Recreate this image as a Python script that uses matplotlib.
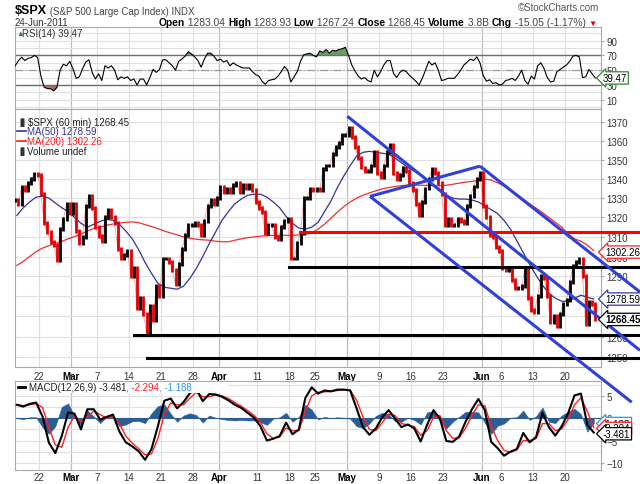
import numpy as np
import matplotlib
matplotlib.use('Agg')
import matplotlib.pyplot as plt
from matplotlib.ticker import FixedLocator, FuncFormatter, NullLocator, NullFormatter
from matplotlib.lines import Line2D
from matplotlib.patches import Rectangle
from matplotlib.text import Annotation

plt.rcParams['font.family'] = ['Liberation Sans', 'DejaVu Sans']

# ---------------- data ----------------
# x axis: trading-day index, 0 = 22-Feb-2011 (holidays removed)
tick_days = [0, 5, 9, 14, 19, 24, 28, 34, 39, 43, 48, 53, 58, 63, 69, 72, 77, 82]
tick_labels = ['22', 'Mar', '7', '14', '21', '28', 'Apr', '11', '18', '25',
               'May', '9', '16', '23', 'Jun', '6', '13', '20']
month_labels = ['Mar', 'Apr', 'May', 'Jun']

# $SPX 60-min closes, two readings per trading day, 15-Feb-2011 .. 24-Jun-2011
close = [
    1329, 1327, 1336, 1334, 1338, 1340, 1342.5, 1342,
    1332, 1317, 1312.5, 1307.4, 1305.7, 1298, 1314, 1319, 1327, 1322,
    1327, 1313, 1307, 1310, 1326, 1331, 1325, 1315, 1310.5, 1308, 1320, 1324,
    1320, 1317, 1304, 1299, 1301, 1303, 1290, 1294, 1274, 1279, 1271, 1262,
    1275, 1268, 1285, 1280, 1299, 1299, 1297, 1293, 1286, 1296, 1304, 1311,
    1316, 1316, 1317, 1316, 1311, 1318, 1326, 1329, 1327, 1330,
    1336, 1333, 1335, 1333, 1337, 1338, 1333, 1337, 1335, 1337, 1334, 1328,
    1325, 1323, 1312, 1316, 1316, 1310, 1309, 1315, 1318, 1319, 1299, 1299,
    1307, 1312, 1330, 1330, 1335, 1334, 1335, 1334, 1345, 1347, 1347, 1353,
    1357, 1359, 1363, 1363,
    1367, 1362, 1357, 1351, 1346, 1344, 1344, 1347, 1354, 1343, 1341, 1347,
    1354, 1358, 1343, 1340, 1342, 1346, 1344, 1338, 1334, 1327, 1321, 1328,
    1335, 1340, 1345, 1343, 1338, 1332, 1316, 1319, 1316, 1316, 1319, 1318,
    1317, 1326, 1331, 1336, 1340, 1343,
    1326, 1320, 1311, 1310, 1305, 1303, 1294, 1293, 1293, 1288, 1284, 1284,
    1285, 1294, 1279, 1273, 1272, 1280, 1290, 1289, 1280, 1267, 1270, 1265,
    1271, 1276, 1278, 1287, 1295, 1297, 1298.7, 1290, 1266, 1277, 1276, 1268.45,
]

# moving averages, one reading per trading day
ma50 = [1321, 1325, 1328, 1330.5,
        1331, 1330, 1327.5, 1325, 1323,
        1320, 1317, 1315, 1316.5, 1318, 1319, 1318.5, 1316.5, 1313,
        1309, 1303.5, 1297, 1291.5, 1286.5,
        1284.5, 1284, 1283.5, 1285, 1289,
        1294, 1300, 1306.5, 1312.5, 1318.5,
        1323, 1327, 1329.5, 1331.5, 1332, 1332,
        1330.5, 1328, 1325, 1320.5, 1317, 1314.5, 1314, 1315,
        1317.5, 1323, 1328.5, 1335.5, 1341.5, 1347, 1352, 1354, 1354.5, 1354,
        1353.5, 1353, 1351, 1348.5, 1346, 1344, 1342, 1339.5, 1337, 1333.5,
        1331.5, 1330, 1329.5, 1329.5, 1329, 1328, 1326, 1324, 1322, 1318.5,
        1314, 1308, 1302, 1296, 1290.5, 1285.5, 1281.5, 1279, 1277.5, 1277.5,
        1279, 1280.5, 1279.5, 1278.6]
ma200 = [1295.5, 1297.5, 1300, 1302.5,
         1304.3, 1305.5, 1306.7, 1307.7, 1309,
         1310.2, 1311.5, 1313, 1314.3, 1315, 1316, 1316.6, 1317.1, 1317.5,
         1317.7, 1317.3, 1316.3, 1315.3, 1314.2,
         1313, 1312, 1311, 1310, 1309.3,
         1308.8, 1308.5, 1308.3, 1307.8, 1307.5,
         1307.5, 1308.3, 1309, 1309.6, 1310, 1310.4,
         1310.6, 1310.8, 1310.8, 1310.8, 1310.8, 1311, 1311.3, 1312,
         1314, 1316.5, 1319.6, 1322.7, 1325.6, 1328, 1330, 1331.5, 1332.7, 1333.8,
         1334.8, 1335.5, 1336, 1336.5, 1336.8, 1336.8, 1336.7, 1336.6, 1336.5, 1336.4,
         1336.7, 1337.2, 1337.8, 1338.3, 1338.7, 1339.3, 1340, 1339.3, 1338, 1336.2,
         1334, 1332, 1329.5, 1327, 1324.8, 1322.5, 1320, 1317.5, 1315, 1311.5,
         1309, 1307.8, 1305.8, 1303]

# RSI(14), two readings per trading day
rsi = [56, 63, 67.5, 63, 66, 67, 70, 67, 42, 27, 25, 25, 22, 27, 50, 58, 56, 62, 52, 39,
       41, 52, 61, 64, 47, 38, 45, 36, 56, 53, 56, 50, 37, 41, 39, 41, 36, 38, 30, 38,
       38, 30, 40, 51, 47, 51, 64, 64, 60, 56, 50, 62, 65, 69, 75, 72, 68, 63, 54, 65,
       73, 73, 69, 63, 65, 61, 63, 56, 60, 57, 55, 53, 53, 53, 48, 44, 42, 35, 31, 36,
       37, 38, 42, 48, 55, 50, 34, 41, 48, 62, 71, 72, 73, 70, 68, 76, 74, 78, 73, 77,
       76, 78, 79, 81, 70, 57, 49, 42, 38, 40, 36, 34, 50, 41, 48, 57, 63, 63, 46, 40,
       47, 50, 48, 43, 39, 35, 30, 39, 50, 62, 57, 60, 50, 36, 37, 39, 39, 39, 44, 50,
       57, 61, 65, 63, 68, 60, 43, 35, 37, 32, 33, 30, 31, 36, 37, 39, 36, 42, 50, 36,
       31, 42, 38, 56, 60, 52, 40, 34, 35, 48, 51, 54, 57, 62, 69, 70, 68, 40, 41, 51,
       45, 39.5]

# MACD(12,26,9), one reading per trading day
macd = [3.0, 2.6, 3.2, 3.5,
        0.4, -5.5, -7.8, -4.0, 1.3,
        1.0, -2.5, 2.0, 2.0, -0.3, 0.3, 0.8, -3.0, -5.4,
        -6.3, -7.4, -9.3, -6.9, -1.8,
        3.9, 4.4, 2.2, 3.6, 5.6,
        6.5, 3.8, 5.4, 5.3, 4.8,
        4.0, 3.0, 2.3, 1.2, 0.1, -1.8,
        -5.0, -4.6, -4.0, -1.0, -3.6, -2.5, 4.5, 6.9,
        5.5, 6.2, 6.0, 6.4, 6.4, 6.2, 2.2, -2.0, -3.7, -2.3,
        0.2, 1.8, -0.1, -2.0, -1.4, -2.3, -5.2, -1.5, 1.8, -0.1,
        -5.1, -5.3, -4.1, -0.8, 2.0, 4.3, 1.8, -5.3, -6.7, -8.4,
        -7.5, -6.9, -3.3, -5.4, -4.2, 1.2, -2.0, -3.9, -1.8, 1.1,
        5.1, 5.5, -1.5, -3.2]
signal = [3.0, 2.8, 3.0, 3.3,
          2.4, -2.0, -6.0, -6.5, -2.0,
          0.6, -0.8, 0.3, 1.6, 0.8, 0.0, 0.5, -1.2, -4.0,
          -5.6, -6.8, -8.2, -8.0, -4.5,
          0.8, 3.4, 3.0, 3.0, 4.5,
          5.8, 4.8, 4.8, 5.2, 5.0,
          4.4, 3.5, 2.7, 1.7, 0.6, -0.9,
          -3.5, -4.5, -4.2, -2.2, -2.8, -2.8, 1.5, 5.0,
          5.8, 5.9, 6.0, 6.2, 6.3, 6.3, 4.0, 0.2, -2.5, -2.8,
          -1.0, 0.9, 0.6, -1.2, -1.5, -1.9, -3.8, -2.8, 0.2, 0.6,
          -2.8, -4.5, -4.4, -2.2, 0.6, 3.0, 2.8, -1.8, -5.0, -7.2,
          -7.6, -7.1, -5.0, -5.0, -4.6, -1.2, -1.2, -2.8, -2.4, -0.3,
          3.0, 4.6, 1.5, -2.1]

# hand-drawn annotations: (trading day, price)
blue_lines = [((48.05, 1373.2), (93.71, 1253.2)),
              ((68.75, 1346.7), (93.71, 1282.1)),
              ((51.59, 1330.9), (92.42, 1228.1)),
              ((51.59, 1330.9), (68.75, 1346.7))]
red_levels = [(40.67, 1312.4)]
black_levels = [(39.0, 1294.6), (14.8, 1260.8), (16.76, 1249.6)]
level_end_day = 93.71

last_close, last_ma50, last_ma200, last_rsi = 1268.45, 1278.59, 1302.26, 39.47
last_macd, last_signal, last_hist = -3.481, -2.294, -1.188

# ---------------- figure ----------------
W, H = 640, 485
fig = plt.figure(figsize=(6.4, 4.85), dpi=100)


def fx(px):
    return px / W


def fy(py):
    return 1 - py / H


L, R = 15, 601
ax_rsi = fig.add_axes([fx(L), fy(110), (R - L) / W, (110 - 27.7) / H])
ax_px = fig.add_axes([fx(L), fy(368), (R - L) / W, (368 - 110) / H])
ax_m = fig.add_axes([fx(L), fy(471), (R - L) / W, (471 - 382) / H])

grid_c = '#e0e0e0'
month_c = '#bdbdbd'
for ax in (ax_rsi, ax_px, ax_m):
    ax.set_xlim(-3.79, 87.63)
    for d, lab in zip(tick_days, tick_labels):
        ax.axvline(d, color=month_c if lab in month_labels else grid_c, lw=0.9, zorder=0)
    ax.set_xticks(tick_days)
    for s in ax.spines.values():
        s.set_color('#a8a8a8')
        s.set_linewidth(0.8)
    ax.yaxis.tick_right()
    ax.tick_params(axis='y', length=2.5, color='#a8a8a8', labelsize=7,
                   labelcolor='#333333', pad=1.5)
    ax.tick_params(axis='x', length=0, labelsize=7, labelcolor='#333333')

ax_rsi.tick_params(axis='x', labelbottom=False)
for ax, pad in ((ax_px, 3.0), (ax_m, 1.6)):
    ax.set_xticklabels(tick_labels)
    ax.tick_params(axis='x', pad=pad)
    for t in ax.get_xticklabels():
        if t.get_text() in month_labels:
            t.set_fontweight('bold')
            t.set_color('black')

# ---------------- RSI panel ----------------
x_half = -3.75 + 0.5 * np.arange(len(close))
r = np.array(rsi, dtype=float)
ax_rsi.set_ylim(-2.6, 108.9)
for v in range(0, 101, 10):
    ax_rsi.axhline(v, color=grid_c, lw=0.8, zorder=0)
ax_rsi.axhline(70, color='#6e6e6e', lw=1.0, zorder=1)
ax_rsi.axhline(30, color='#6e6e6e', lw=1.0, zorder=1)
ax_rsi.axhline(50, color='#9a9a9a', lw=0.9, ls='-.', zorder=1)
ax_rsi.fill_between(x_half, r, 70, where=r > 70, interpolate=True,
                    color='#4f8a4f', alpha=0.85, lw=0, zorder=2)
ax_rsi.fill_between(x_half, r, 30, where=r < 30, interpolate=True,
                    color='#a65050', alpha=0.85, lw=0, zorder=2)
ax_rsi.plot(x_half, r, color='black', lw=0.8, zorder=3)
ax_rsi.yaxis.set_major_locator(FixedLocator([10, 30, 50, 70, 90]))

# ---------------- price panel ----------------
ax_px.set_yscale('log')
ax_px.set_ylim(1245.1, 1377.1)
ax_px.yaxis.set_major_locator(FixedLocator(list(range(1250, 1371, 10))))
ax_px.yaxis.set_major_formatter(FuncFormatter(lambda v, p: f'{v:.0f}'))
ax_px.yaxis.set_minor_locator(NullLocator())
ax_px.yaxis.set_minor_formatter(NullFormatter())
for v in range(1250, 1380, 10):
    ax_px.axhline(v, color=grid_c, lw=0.8, zorder=0)

c = np.array(close, dtype=float)
prev = np.r_[c[0], c[:-1]]
lo = np.minimum(prev, c) - 1.0
hi = np.maximum(prev, c) + 1.0
cols = np.where(c >= prev, 'black', '#e00000')
ax_px.plot(x_half, c, color='#f4a0a0', lw=0.6, zorder=2)
ax_px.vlines(x_half, lo, hi, colors=cols, lw=2.0, zorder=3)

x_day = -3.5 + np.arange(len(ma50))
ax_px.plot(x_day, ma200, color='#f03030', lw=0.9, zorder=2)
ax_px.plot(x_day, ma50, color='#333399', lw=0.9, zorder=2)

for (d0, p0), (d1, p1) in blue_lines:
    ax_px.plot([d0, d1], [p0, p1], color='#3040d8', lw=2.2, solid_capstyle='butt',
               clip_on=False, zorder=6)
for d0, p0 in red_levels:
    ax_px.plot([d0, level_end_day], [p0, p0], color='#ff0000', lw=2.2,
               clip_on=False, zorder=5)
for d0, p0 in black_levels:
    ax_px.plot([d0, level_end_day], [p0, p0], color='black', lw=2.2,
               clip_on=False, zorder=5)

# ---------------- MACD panel ----------------
m = np.array(macd)
s = np.array(signal)
hist = m - s
ax_m.set_ylim(-11.59, 8.32)
for v in np.arange(-10, 8, 2.5):
    ax_m.axhline(v, color=grid_c, lw=0.8, zorder=0)
ax_m.fill_between(x_day, hist, 0, color='#2b5e95', lw=0.4, zorder=2)
ax_m.axhline(0, color='#2b5e95', lw=0.8, zorder=2)
ax_m.plot(x_day, s, color='#ff2020', lw=1.0, zorder=3)
ax_m.plot(x_day, m, color='black', lw=1.5, zorder=4)
ax_m.yaxis.set_major_locator(FixedLocator([5, 0, -5, -10]))


# ---------------- value boxes on right ----------------
def vbox(ax, val, txt, ec, bold=False, dx=4):
    ax.text(1.0 + dx / (R - L), val, txt, transform=ax.get_yaxis_transform(),
            ha='left', va='center', fontsize=7, color='black',
            fontweight='bold' if bold else 'normal',
            bbox=dict(boxstyle='larrow,pad=0.12', fc='white', ec=ec, lw=0.9),
            zorder=10, clip_on=False)


vbox(ax_px, last_ma200, f'{last_ma200:.2f}', '#ff2020')
vbox(ax_px, last_ma50, f'{last_ma50:.2f}', '#3a3a99')
vbox(ax_px, last_close, f'{last_close:.2f}', 'black', bold=True)
vbox(ax_rsi, last_rsi, f'{last_rsi:.2f}', '#2e8b2e', dx=2)
vbox(ax_m, last_hist, f'{last_hist:.3f}', '#3399dd', dx=2)
vbox(ax_m, last_signal, f'{last_signal:.3f}', '#ff2020', dx=2)
vbox(ax_m, last_macd, f'{last_macd:.3f}', 'black', dx=2)


# ---------------- texts ----------------
def chain(x, y, parts, size):
    t = fig.text(x, y, parts[0][0], color=parts[0][1], fontweight=parts[0][2],
                 fontsize=parts[0][3] if len(parts[0]) > 3 else size,
                 ha='left', va='baseline', zorder=5)
    for part in parts[1:]:
        txt, col, wt = part[:3]
        fs = part[3] if len(part) > 3 else size
        a = Annotation(txt, xy=(1, 0), xycoords=t, ha='left', va='bottom',
                       color=col, fontweight=wt, fontsize=fs,
                       annotation_clip=False, zorder=5)
        fig.add_artist(a)
        t = a
    return t


chain(fx(15), fy(14), [('$SPX', 'black', 'bold', 9),
                       (' (S&P 500 Large Cap Index) INDX', '#444444', 'normal', 7)], 7)
fig.text(fx(599), fy(11), '\u00a9StockCharts.com', fontsize=7, color='#555555',
         ha='right', va='baseline')
fig.text(fx(15), fy(25.5), '24-Jun-2011', fontsize=7, color='#333333', va='baseline')
chain(fx(159), fy(25.5), [
    ('Open', 'black', 'bold'), (' 1283.04 ', '#444444', 'normal'),
    ('High', 'black', 'bold'), (' 1283.93 ', '#444444', 'normal'),
    ('Low', 'black', 'bold'), (' 1267.24 ', '#444444', 'normal'),
    ('Close', 'black', 'bold'), (' 1268.45 ', '#444444', 'normal'),
    ('Volume', 'black', 'bold'), (' 3.8B ', '#444444', 'normal'),
    ('Chg', 'black', 'bold'), (' -15.05 (-1.17%) ', '#444444', 'normal'),
    ('\u25bc', '#dd0000', 'normal', 6)], 7.4)

fig.text(fx(16), fy(34), '\u25b2', fontsize=5.5, color='#3a7a3a', va='center')
fig.text(fx(22), fy(34), 'RSI(14) 39.47', fontsize=7, color='#333333', va='center')

fig.text(fx(17), fy(122.7), '\u2590\u258c', fontsize=5, color='#333333', va='center')
fig.text(fx(28), fy(122.7), '$SPX (60 min) 1268.45', fontsize=7, color='#222222',
         va='center')
fig.add_artist(Line2D([fx(17), fx(26)], [fy(132.3), fy(132.3)], color='#333399', lw=1.2))
fig.text(fx(27), fy(132.3), 'MA(50) 1278.59', fontsize=7, color='#333399', va='center')
fig.add_artist(Line2D([fx(17), fx(26)], [fy(142.3), fy(142.3)], color='#ff2020', lw=1.2))
fig.text(fx(27), fy(142.3), 'MA(200) 1302.26', fontsize=7, color='#ff2020', va='center')
fig.text(fx(17), fy(151.7), '\u2590\u258c', fontsize=5, color='#333333', va='center')
fig.text(fx(27), fy(151.7), 'Volume undef', fontsize=7, color='#222222', va='center')

fig.patches.append(Rectangle((fx(16), fy(394)), fx(212), 11 / H, transform=fig.transFigure,
                             facecolor='white', edgecolor='none', zorder=1))
fig.add_artist(Line2D([fx(18), fx(25)], [fy(388), fy(388)], color='black', lw=2.0, zorder=4))
chain(fx(29), fy(391), [('MACD(12,26,9) -3.481', '#222222', 'normal'),
                        (', -2.294', '#ff2020', 'normal'),
                        (', -1.188', '#3399dd', 'normal')], 7)

fig.savefig('out.png', dpi=100)
